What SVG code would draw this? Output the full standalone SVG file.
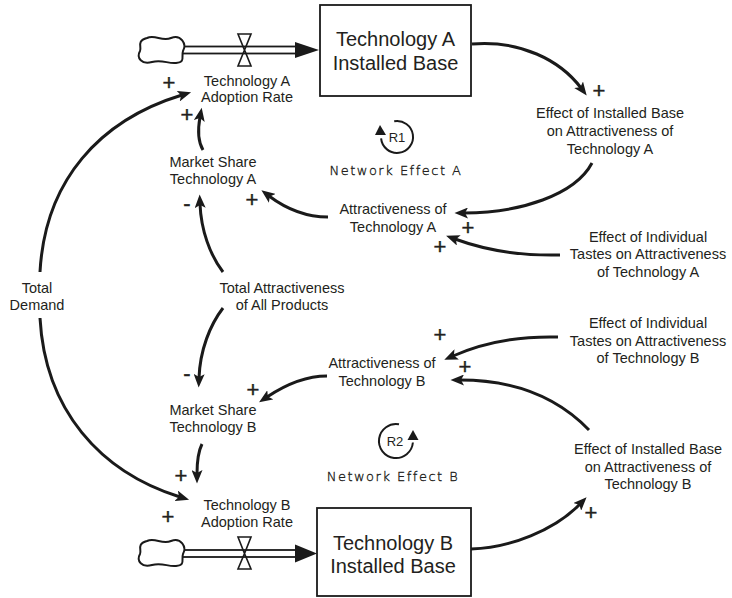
<svg xmlns="http://www.w3.org/2000/svg" width="732" height="598" viewBox="0 0 732 598">
<defs>
<marker id="ah" markerUnits="userSpaceOnUse" markerWidth="14" markerHeight="11" viewBox="0 0 14 11" refX="4" refY="5.5" orient="auto">
<path d="M0,0 L13.5,5.5 L0,11 L3,5.5 Z" fill="#1a1a1a"/>
</marker>
<path id="cloud" d="M147,-12 C155,-16 162,-8 171,-12 C181,-16 187,-6 183,1 C181,7 186,12 176,13 C168,14 162,9 152,12 C142,15 136,8 140,1 C142,-3 136,-9 147,-12 Z"/>
</defs>
<style>
.lbl{font-family:"Liberation Sans",Arial,sans-serif;font-size:14.5px;fill:#231f20;text-anchor:middle}
.big{font-family:"Liberation Sans",Arial,sans-serif;font-size:20px;fill:#231f20;text-anchor:middle}
.sgn{font-family:"Liberation Sans",Arial,sans-serif;font-size:22px;fill:#231f20;stroke:#231f20;stroke-width:0.4;text-anchor:middle}
.hand{font-family:"DejaVu Sans ExtraLight","DejaVu Sans",sans-serif;font-weight:200;font-size:13px;letter-spacing:1.5px;fill:#231f20;stroke:#231f20;stroke-width:0.35;text-anchor:middle}
.lp{font-family:"Liberation Sans",Arial,sans-serif;font-size:13px;fill:#231f20;text-anchor:middle}
.lnk{fill:none;stroke:#1a1a1a;stroke-width:3;marker-end:url(#ah)}
.box{fill:#fff;stroke:#1a1a1a;stroke-width:1.8}
.pipe{fill:#fff;stroke:#1a1a1a;stroke-width:1.8}
.valve{fill:none;stroke:#1a1a1a;stroke-width:1.6}
.cl{fill:#fff;stroke:#1a1a1a;stroke-width:2}
.loop{fill:none;stroke:#1a1a1a;stroke-width:2}
</style>
<rect width="732" height="598" fill="#fff"/>

<g id="connectors">
<path class="lnk" d="M472,44 C520,40 560,60 581,88"/>
<path class="lnk" d="M592,163 C575,195 520,213 464,213"/>
<path class="lnk" d="M560,255 C520,256 485,250 455,239"/>
<path class="lnk" d="M328,217 C305,217 285,208 269,196"/>
<path class="lnk" d="M203,150 C197,140 198,128 200,117"/>
<path class="lnk" d="M223,272 C210,255 201,230 200,204"/>
<path class="lnk" d="M223,308 C210,325 200,350 199,378"/>
<path class="lnk" d="M327,376 C305,376 285,385 267,397"/>
<path class="lnk" d="M202,444 C198,452 197,462 197,474"/>
<path class="lnk" d="M558,337 C520,336 485,342 453,356"/>
<path class="lnk" d="M589,430 C560,400 520,380 460,380"/>
<path class="lnk" d="M471,549 C510,548 555,530 580,504"/>
<path class="lnk" d="M40,272 C45,180 100,120 182,95"/>
<path class="lnk" d="M40,318 C45,410 100,472 180,497"/>
</g>

<g id="flowA">
<rect class="pipe" x="182" y="46.5" width="116" height="7"/>
<polygon points="295,42 319,50 295,58" fill="#1a1a1a"/>
<path class="valve" d="M238,34 L251,34 L244.5,50 Z M244.5,50 L238,66 L251,66 Z"/>
<use href="#cloud" class="cl" transform="translate(0,50)"/>
<text class="lbl" x="247" y="86">Technology A</text>
<text class="lbl" x="247" y="102">Adoption Rate</text>
</g>

<g id="flowB">
<rect class="pipe" x="182" y="550" width="116" height="7"/>
<polygon points="295,544.5 317,553.5 295,562.5" fill="#1a1a1a"/>
<path class="valve" d="M238,537 L251,537 L244.5,553.5 Z M244.5,553.5 L238,569 L251,569 Z"/>
<use href="#cloud" class="cl" transform="translate(0,553)"/>
<text class="lbl" x="247" y="510">Technology B</text>
<text class="lbl" x="247" y="527">Adoption Rate</text>
</g>

<g id="stockA">
<rect class="box" x="320" y="5" width="151" height="91"/>
<text class="big" x="395.5" y="46">Technology A</text>
<text class="big" x="395.5" y="70">Installed Base</text>
</g>

<g id="stockB">
<rect class="box" x="317" y="508" width="154" height="88"/>
<text class="big" x="393" y="550">Technology B</text>
<text class="big" x="393" y="573">Installed Base</text>
</g>

<g id="effIBA">
<text class="lbl" x="610" y="118">Effect of Installed Base</text>
<text class="lbl" x="610" y="136">on Attractiveness of</text>
<text class="lbl" x="610" y="154">Technology A</text>
</g>

<g id="tastesA">
<text class="lbl" x="648" y="242">Effect of Individual</text>
<text class="lbl" x="648" y="259">Tastes on Attractiveness</text>
<text class="lbl" x="648" y="277">of Technology A</text>
</g>

<g id="attrA">
<text class="lbl" x="393" y="214">Attractiveness of</text>
<text class="lbl" x="393" y="232">Technology A</text>
</g>

<g id="msA">
<text class="lbl" x="213" y="167">Market Share</text>
<text class="lbl" x="213" y="184">Technology A</text>
</g>

<g id="totAttr">
<text class="lbl" x="282" y="293">Total Attractiveness</text>
<text class="lbl" x="282" y="310">of All Products</text>
</g>

<g id="totDemand">
<text class="lbl" x="37" y="293">Total</text>
<text class="lbl" x="37" y="310">Demand</text>
</g>

<g id="msB">
<text class="lbl" x="213" y="415">Market Share</text>
<text class="lbl" x="213" y="432">Technology B</text>
</g>

<g id="attrB">
<text class="lbl" x="382" y="368">Attractiveness of</text>
<text class="lbl" x="382" y="386">Technology B</text>
</g>

<g id="tastesB">
<text class="lbl" x="648" y="328">Effect of Individual</text>
<text class="lbl" x="648" y="346">Tastes on Attractiveness</text>
<text class="lbl" x="648" y="363">of Technology B</text>
</g>

<g id="effIBB">
<text class="lbl" x="648" y="454">Effect of Installed Base</text>
<text class="lbl" x="648" y="472">on Attractiveness of</text>
<text class="lbl" x="648" y="489">Technology B</text>
</g>

<g id="loopR1">
<path class="loop" d="M394.2,121.2 A16,16 0 1 1 381.1,138.4"/>
<polygon points="380,125 375,135 386,135" fill="#1a1a1a"/>
<text class="lp" x="397" y="142">R1</text>
<text class="hand" x="396" y="175">Network Effect A</text>
</g>

<g id="loopR2">
<path class="loop" d="M399,424.3 A17,17 0 1 0 412.9,442.5"/>
<polygon points="413,430 407.5,440 418.5,440" fill="#1a1a1a"/>
<text class="lp" x="395" y="446">R2</text>
<text class="hand" x="393" y="481">Network Effect B</text>
</g>

<g id="polarities">
<text class="sgn" x="169" y="90">+</text>
<text class="sgn" x="187" y="122">+</text>
<text class="sgn" x="599" y="98">+</text>
<text class="sgn" x="468" y="235">+</text>
<text class="sgn" x="440" y="254">+</text>
<text class="sgn" x="252" y="207">+</text>
<text class="sgn" x="187" y="211">-</text>
<text class="sgn" x="187" y="381">-</text>
<text class="sgn" x="253" y="397">+</text>
<text class="sgn" x="440" y="342">+</text>
<text class="sgn" x="465" y="374">+</text>
<text class="sgn" x="181" y="483">+</text>
<text class="sgn" x="168" y="524">+</text>
<text class="sgn" x="591" y="520">+</text>
</g>
</svg>
